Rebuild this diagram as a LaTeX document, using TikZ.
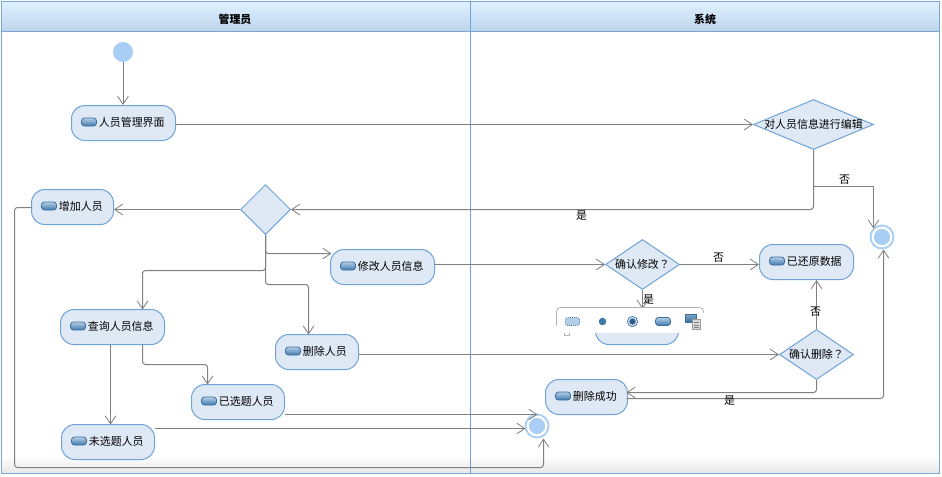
\documentclass[tikz,border=0pt]{standalone}
\usepackage{fontspec}
\setmainfont{Noto Sans CJK SC}
\newfontfamily\tcfont{Noto Sans CJK TC}
\usetikzlibrary{arrows.meta,shapes.geometric,calc}
\definecolor{lineblue}{HTML}{6FA3D8}
\definecolor{swimblue}{HTML}{7CA6D4}
\definecolor{nodefill}{HTML}{DFE9F5}
\definecolor{edgegray}{HTML}{808080}
\definecolor{startblue}{HTML}{A9CEF4}
\definecolor{icontop}{HTML}{B4CEE6}
\definecolor{iconbot}{HTML}{4079AC}
\definecolor{iconline}{HTML}{3B6E9E}
\definecolor{headtop}{HTML}{E0F1FF}
\definecolor{headbot}{HTML}{BBD4EB}
\tikzset{
  x=0.75pt,y=-0.75pt,
  actbox/.style={draw=lineblue,fill=nodefill,line width=0.75pt,rounded corners=10pt,inner sep=0pt,font=\fontsize{8.2pt}{10pt}\selectfont},
  decbox/.style={diamond,draw=lineblue,fill=nodefill,line width=0.75pt,inner sep=0pt,font=\fontsize{8.2pt}{10pt}\selectfont},
  edge/.style={draw=edgegray,line width=0.75pt,rounded corners=2.2pt,-{Straight Barb[length=6pt,width=8pt,line width=0.6pt]}},
  plainedge/.style={draw=edgegray,line width=0.75pt,rounded corners=2.2pt},
  elabel/.style={font=\fontsize{8.2pt}{10pt}\selectfont,inner sep=0pt},
  headtext/.style={font=\fontsize{8.2pt}{10pt}\selectfont\bfseries,inner sep=0pt},
  acticon/.style={draw=iconline,rounded corners=2.2pt,line width=0.6pt,top color=icontop,bottom color=iconbot},
  startdot/.style={circle,fill=startblue,minimum size=15pt,inner sep=0pt},
  enddot/.style={circle,fill=startblue,draw=startblue,line width=1.5pt,double=white,double distance=1.6pt,minimum size=14pt,inner sep=0pt},
}
\newcommand\act[6]{%
  \node[actbox,minimum width={(#4-#2)*0.75pt},minimum height={(#5-#3)*0.75pt}] (#1) at ({(#2+#4)/2},{(#3+#5)/2})
    {\makebox[\dimexpr 0.75pt*\numexpr #4-#2\relax\relax][l]{\hspace{20.6pt}\raisebox{0.75pt}[\height][\depth]{#6}}};
  \shade[acticon] (#2+10,{(#3+#5)/2-5}) rectangle (#2+25,{(#3+#5)/2+3});
}
\newcommand\dec[6]{%
  \pgfmathsetmacro\decaspect{#4/#5}%
  \node[decbox,aspect=\decaspect,minimum width={2*#4*0.75pt},minimum height={2*#5*0.75pt},label={[elabel]center:#6}] (#1) at (#2,#3) {};
}
\begin{document}
\begin{tikzpicture}
\useasboundingbox (0,0) rectangle (942,476);
\fill[white] (0,0) rectangle (942,476);
% swimlanes
\shade[top color=white,bottom color=black!9] (1.5,455) rectangle (939.5,473.5);
\shade[top color=headtop,bottom color=headbot] (1.5,1.5) rectangle (939.5,31.5);
\draw[swimblue,line width=0.75pt] (1.5,1.5) rectangle (939.5,473.5);
\draw[swimblue,line width=0.75pt] (1.5,31.5) -- (939.5,31.5);
\draw[lineblue,line width=0.75pt] (470.5,1.5) -- (470.5,473.5);
\node[headtext] (h1) at (235,19) {管理员};
\node[headtext] (h2) at (705,19) {系统};
\begin{scope}[shift={(0.5,0.5)}]
% nodes
\node[startdot] (s) at (122.5,51.5) {};
\act{ui}{71}{105}{175}{140}{人员管理界面}
\act{add}{31}{189}{113}{224}{增加人员}
\dec{hub}{265}{209}{25}{25}{}
\act{edit}{330}{249}{434}{284}{修改人员信息}
\act{query}{60}{309}{164}{344}{查询人员信息}
\act{del}{275}{334}{358}{369}{删除人员}
\act{sel}{191}{384}{284}{419}{已选题人员}
\act{unsel}{61}{424}{154}{459}{未选题人员}
\dec{info}{813}{124}{60}{25}{对人员信息进行编辑}
\dec{cedit}{642}{264}{37}{25}{确认修改{\tcfont ？}}
\act{rest}{759}{244}{853}{279}{已还原数据}
\dec{cdel}{816}{354}{37}{25}{确认删除{\tcfont ？}}
\act{ok}{545}{379}{627}{414}{删除成功}
\node[actbox,minimum width=62.25pt,minimum height=26.25pt] (hid) at (636.5,326.5) {};
\node[enddot] (e1) at (881.5,236.5) {};
\node[enddot] (e2) at (536.5,425.5) {};
% helper coordinates
\coordinate (j1) at (813,186);
\coordinate (j2) at (265,253);
\coordinate (j3) at (265,270);
\coordinate (j4) at (265,284);
\coordinate (t3) at (142,309);
\coordinate (t4) at (308,334);
\coordinate (t2) at (331,253);
\coordinate (q2) at (142,344);
\coordinate (q3) at (207,384);
\coordinate (q1) at (110,344);
\coordinate (q1t) at (110,424);
\coordinate (a1) at (31,207);
\coordinate (a2) at (14,207);
\coordinate (a3) at (14,467);
\coordinate (a4) at (543,467);
\coordinate (a5) at (543,438);
\coordinate (k1) at (816,392);
\coordinate (k2) at (626,392);
\coordinate (k3) at (626,398);
\coordinate (k4) at (883,398);
\coordinate (k5) at (883,249);
\coordinate (i1) at (813,209);
\coordinate (i2) at (873,186);
\coordinate (i3) at (873,228);
\coordinate (l1) at (284,414);
\coordinate (l2) at (537,414);
\coordinate (u2) at (525,428);
% connectors
\draw[edge] (s.south) -- (s.south |- ui.north);
\draw[edge] (ui.east |- info.west) -- (info.west);
\draw[edge] (info.south) -- (i1) -- (hub.east);
\draw[plainedge] (j1) -- (i2);
\draw[edge] (i2) -- (i3);
\draw[edge] (hub.west) -- (add.east |- hub.west);
\draw[edge] (hub.south) -- (j2) -- (t2);
\draw[edge] (hub.south) -- (j3) -- (j3 -| t3) -- (t3);
\draw[edge] (hub.south) -- (j4) -- (j4 -| t4) -- (t4);
\draw[edge] (edit.east |- cedit.west) -- (cedit.west);
\draw[edge] (cedit.east) -- (rest.west |- cedit.east);
\draw[edge] (cedit.south) -- (cedit.south |- hid.north);
\draw[edge] (q1) -- (q1t);
\draw[edge] (q2) -- (q2 |- 0,364) -- (q3 |- 0,364) -- (q3);
\draw[edge] (del.east |- cdel.west) -- (cdel.west);
\draw[edge] (cdel.north) -- (cdel.north |- rest.south);
\draw[edge] (cdel.south) -- (k1) -- (k2);
\draw[edge] (k3) -- (k4) -- (k5);
\draw[edge] (l1) -- (l2);
\draw[edge] (unsel.east |- u2) -- (u2);
\draw[edge] (a1) -- (a2) -- (a3) -- (a4) -- (a5);
% labels
\node[elabel] (n1) at (581,215) {是};
\node[elabel] (n2) at (844,179) {否};
\node[elabel] (n3) at (718,257) {否};
\node[elabel] (n4) at (815,311) {否};
\node[elabel] (n5) at (729,400) {是};
% palette
\fill[white] (556,307) rectangle (704,332);
\draw[black!30,line width=0.6pt,rounded corners=3pt] (556,325) -- (556,307) -- (703,307) -- (703,312);
\draw[black!30,line width=0.6pt] (564,332) -- (564,335) -- (569,335) -- (569,332);
\node[draw=iconline,densely dotted,fill=icontop,rounded corners=2pt,minimum width=11pt,minimum height=6pt,inner sep=0pt,line width=0.6pt] (p1) at (572,321) {};
\node[circle,fill=iconbot,draw=iconline,minimum size=5pt,inner sep=0pt,line width=0.5pt] (p2) at (602,321) {};
\node[circle,fill=iconline!80!black,draw=iconline,double=icontop!60!white,double distance=0.9pt,minimum size=6pt,inner sep=0pt,line width=0.6pt] (p3) at (632,321) {};
\shade[acticon] (655,317) rectangle (670,325);
\shade[top color=iconbot!70,bottom color=iconline,draw=iconline,line width=0.4pt] (685,314) rectangle (696,322);
\fill[white] (691,318) rectangle (700,329.5);
\draw[black!40,fill=black!15,line width=0.5pt] (692,319) rectangle (700,329);
\foreach \yy in {322,324.5,327}{\draw[black!50,line width=0.4pt] (693.5,\yy) -- (698.5,\yy);}
\node[elabel] (n6) at (648,299) {是};
\end{scope}
\end{tikzpicture}
\end{document}
